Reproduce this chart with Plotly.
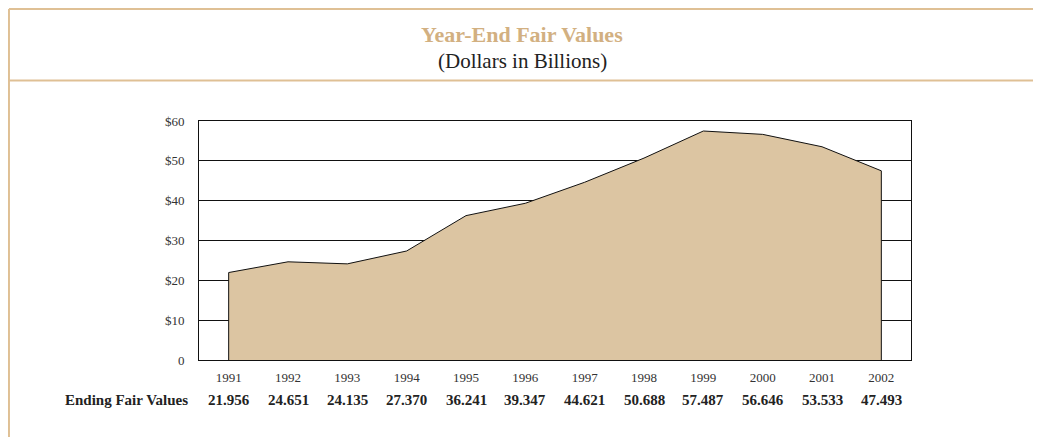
import plotly.graph_objects as go

# ---- data ----
YEARS = ["1991", "1992", "1993", "1994", "1995", "1996",
         "1997", "1998", "1999", "2000", "2001", "2002"]
FAIR_VALUES = [21.956, 24.651, 24.135, 27.370, 36.241, 39.347,
               44.621, 50.688, 57.487, 56.646, 53.533, 47.493]
Y_TICKS = [0, 10, 20, 30, 40, 50, 60]
Y_TICK_TEXT = ["0", "$10", "$20", "$30", "$40", "$50", "$60"]

# ---- palette ----
FILL_COLOR = "#dcc5a2"
TITLE_COLOR = "#d2b081"
FRAME_COLOR = "#dfc095"
SERIF = "Liberation Serif, Times New Roman, serif"

idx = list(range(len(YEARS)))

fig = go.Figure()

# closed polygon so the left/right edges get the black outline too
fig.add_trace(go.Scatter(
    x=[idx[0]] + idx + [idx[-1]],
    y=[0] + FAIR_VALUES + [0],
    mode="lines",
    fill="toself",
    fillcolor=FILL_COLOR,
    line=dict(color="#111111", width=1),
    showlegend=False,
    hoverinfo="skip",
))

fig.update_xaxes(
    range=[-0.5, len(YEARS) - 0.5],
    tickmode="array", tickvals=idx, ticktext=YEARS,
    showgrid=False, zeroline=False,
    showline=True, linecolor="#111111", linewidth=1, mirror=True,
    ticks="outside", ticklen=5, tickcolor="rgba(0,0,0,0)",
    tickfont=dict(family=SERIF, size=13, color="#333333"),
)
fig.update_yaxes(
    range=[0, 60],
    tickmode="array", tickvals=Y_TICKS, ticktext=Y_TICK_TEXT,
    showgrid=True, gridcolor="#111111", gridwidth=1,
    zeroline=False,
    showline=True, linecolor="#111111", linewidth=1, mirror=True,
    ticks="outside", ticklen=11, tickcolor="rgba(0,0,0,0)",
    tickfont=dict(family=SERIF, size=13, color="#333333"),
)

# "Ending Fair Values" row under the year labels
ROW_Y = -0.167
fig.add_annotation(
    x=0, xref="paper", xanchor="right", xshift=-9,
    y=ROW_Y, yref="paper", yanchor="middle",
    text="<b>Ending Fair Values</b>", showarrow=False,
    font=dict(family=SERIF, size=15, color="#222222"),
)
for i, v in zip(idx, FAIR_VALUES):
    fig.add_annotation(
        x=i, xref="x", y=ROW_Y, yref="paper", yanchor="middle",
        text=f"<b>{v:.3f}</b>", showarrow=False,
        font=dict(family=SERIF, size=15, color="#222222"),
    )

# titles
fig.add_annotation(
    x=0.4537, xref="paper", y=1.36, yref="paper", yanchor="middle",
    text="<b>Year-End Fair Values</b>", showarrow=False,
    font=dict(family=SERIF, size=22, color=TITLE_COLOR),
)
fig.add_annotation(
    x=0.4537, xref="paper", y=1.253, yref="paper", yanchor="middle",
    text="(Dollars in Billions)", showarrow=False,
    font=dict(family=SERIF, size=21, color="#222222"),
)

# outer frame: left, top, right, and separator below the title
frame = dict(color=FRAME_COLOR, width=2)
x_left, x_right = -0.2669, 1.1756
y_top, y_sep, y_bot = 1.4686, 1.1695, -0.40
fig.add_shape(type="line", xref="paper", yref="paper",
              x0=x_left, x1=x_left, y0=y_bot, y1=y_top, line=frame)
fig.add_shape(type="line", xref="paper", yref="paper",
              x0=x_right, x1=x_right, y0=y_bot, y1=y_top, line=frame)
fig.add_shape(type="line", xref="paper", yref="paper",
              x0=x_left, x1=x_right, y0=y_top, y1=y_top, line=frame)
fig.add_shape(type="line", xref="paper", yref="paper",
              x0=x_left, x1=x_right, y0=y_sep, y1=y_sep, line=frame)

fig.update_layout(
    width=1033, height=429,
    margin=dict(l=191, r=130, t=113, b=77),
    paper_bgcolor="white", plot_bgcolor="white",
    showlegend=False,
)

fig.write_html("out.html")
